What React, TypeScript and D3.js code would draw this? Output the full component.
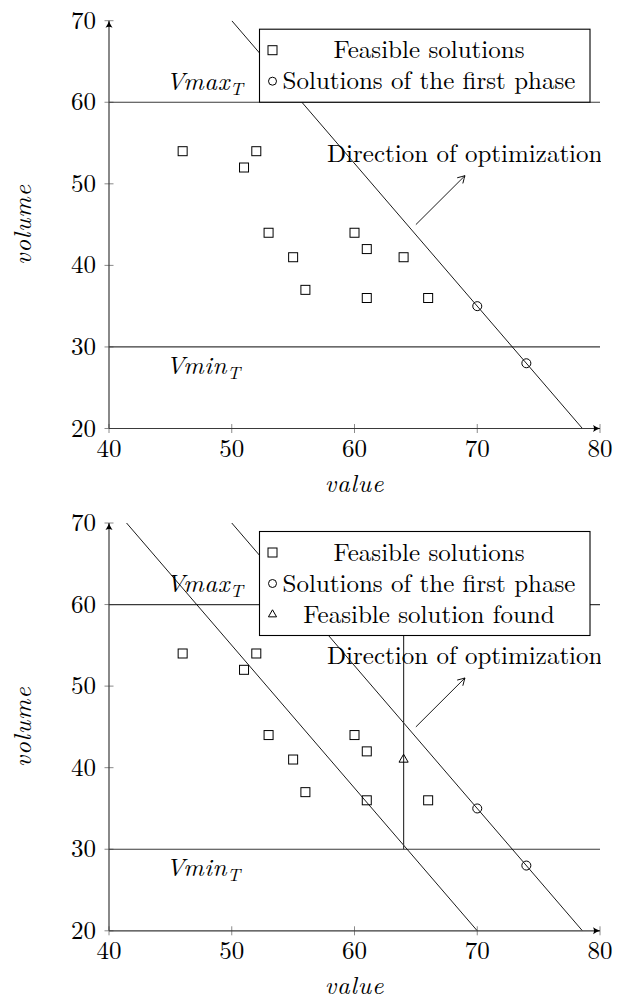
import React from 'react';
import * as d3 from 'd3';

// axis ticks
const xTicks = [40, 50, 60, 70, 80];
const yTicks = [20, 30, 40, 50, 60, 70];

// feasible solutions (value, volume)
const feasibleValue = [46, 51, 52, 53, 55, 56, 60, 61, 61, 64, 66];
const feasibleVolume = [54, 52, 54, 44, 41, 37, 44, 42, 36, 41, 36];

// solutions of the first phase
const firstPhaseValue = [70, 74];
const firstPhaseVolume = [35, 28];

// feasible solution found (second plot only)
const foundValue = [64];
const foundVolume = [41];

// volume bounds
const vMax = 60;
const vMin = 30;

// objective iso-lines
const optimLineValue = [50, 78.57];
const optimLineVolume = [70, 20];
const foundLineValue = [41.43, 70];
const foundLineVolume = [70, 20];

// vertical drop from the found solution
const dropValue = [64, 64];
const dropVolume = [30, 60];

// direction of optimization arrow
const arrowValue = [65, 69];
const arrowVolume = [45, 51];

const legendTop = ['Feasible solutions', 'Solutions of the first phase'];
const legendBottom = ['Feasible solutions', 'Solutions of the first phase', 'Feasible solution found'];

const FONT = 'Latin Modern Roman';
const FS = 25;

type Mark = 'square' | 'circle' | 'triangle';

function Marker({ kind, cx, cy, s = 9 }: { kind: Mark; cx: number; cy: number; s?: number }) {
  if (kind === 'square') {
    return <rect x={cx - s / 2} y={cy - s / 2} width={s} height={s} fill="none" stroke="#000" strokeWidth={1} />;
  }
  if (kind === 'circle') {
    return <circle cx={cx} cy={cy} r={s / 2} fill="none" stroke="#000" strokeWidth={1} />;
  }
  const tri = d3.symbol().type(d3.symbolTriangle).size(s * s * 0.45)();
  return <path d={tri || ''} transform={`translate(${cx},${cy})`} fill="none" stroke="#000" strokeWidth={1} />;
}

function Chart({ id, top, second }: { id: string; top: number; second: boolean }) {
  const x = d3.scaleLinear().domain([40, 80]).range([109, 600]);
  const y = d3.scaleLinear().domain([20, 70]).range([top + 407.8, top]);
  const line = d3
    .line<[number, number]>()
    .x((d) => x(d[0]))
    .y((d) => y(d[1]));
  const pts = (vs: number[], ws: number[]) => vs.map((v, i) => [v, ws[i]] as [number, number]);

  let fv = feasibleValue;
  let fw = feasibleVolume;
  if (second) {
    // the found solution replaces its square
    const keep = feasibleValue.map((v, i) => !(v === foundValue[0] && feasibleVolume[i] === foundVolume[0]));
    fv = feasibleValue.filter((_, i) => keep[i]);
    fw = feasibleVolume.filter((_, i) => keep[i]);
  }

  const [x0, x1] = x.range();
  const yb = y(20);
  const yt = y(70);
  const axisCol = '#3a3a3a';

  const legend = second ? legendBottom : legendTop;
  const legendKinds: Mark[] = ['square', 'circle', 'triangle'];
  const lgLeft = 259.5;
  const lgRight = 590;
  const lgTop = yt + 8.5;
  const rowH = 31;
  const lgH = 21 + rowH * (legend.length - 1) + 21;

  return (
    <g>
      <defs>
        <clipPath id={`clip-${id}`}>
          <rect x={x0} y={yt} width={x1 - x0 + 1} height={yb - yt} />
        </clipPath>
      </defs>

      {/* ticks */}
      {xTicks.map((t) => (
        <line key={'xt' + t} x1={x(t)} x2={x(t)} y1={yb - 4.5} y2={yb + 4.5} stroke="#8a8a8a" strokeWidth={1} />
      ))}
      {yTicks.map((t) => (
        <line key={'yt' + t} x1={x0 - 4.5} x2={x0 + 4.5} y1={y(t)} y2={y(t)} stroke="#8a8a8a" strokeWidth={1} />
      ))}

      {/* bounds */}
      <line x1={x0} x2={x1} y1={y(vMax)} y2={y(vMax)} stroke={axisCol} strokeWidth={1.2} />
      <line x1={x0} x2={x1} y1={y(vMin)} y2={y(vMin)} stroke={axisCol} strokeWidth={1.2} />

      <g clipPath={`url(#clip-${id})`}>
        <path d={line(pts(optimLineValue, optimLineVolume)) || ''} fill="none" stroke="#000" strokeWidth={0.9} />
        {second && (
          <>
            <path d={line(pts(foundLineValue, foundLineVolume)) || ''} fill="none" stroke="#000" strokeWidth={0.9} />
            <path d={line(pts(dropValue, dropVolume)) || ''} fill="none" stroke={axisCol} strokeWidth={1.2} />
          </>
        )}
      </g>

      {/* direction */}
      <path
        d={line(pts(arrowValue, arrowVolume)) || ''}
        fill="none"
        stroke="#000"
        strokeWidth={0.9}
        markerEnd="url(#openArrow)"
      />
      <g clipPath={`url(#clip-${id})`}>
        <text x={327} y={y(52.7)} fontFamily={FONT} fontSize={FS}>
          Direction of optimization
        </text>
      </g>

      {/* bound labels */}
      <text x={166} y={y(61.5)} fontFamily={FONT} fontSize={FS} fontStyle="italic" letterSpacing={0.6}>
        Vmax
        <tspan fontSize={FS * 0.72} dy={5}>T</tspan>
      </text>
      <text x={166} y={y(26.7)} fontFamily={FONT} fontSize={FS} fontStyle="italic" letterSpacing={0.6}>
        Vmin
        <tspan fontSize={FS * 0.72} dy={5}>T</tspan>
      </text>

      {/* marks */}
      {fv.map((v, i) => (
        <Marker key={'f' + i} kind="square" cx={x(v)} cy={y(fw[i])} />
      ))}
      {firstPhaseValue.map((v, i) => (
        <Marker key={'c' + i} kind="circle" cx={x(v)} cy={y(firstPhaseVolume[i])} />
      ))}
      {second &&
        foundValue.map((v, i) => <Marker key={'t' + i} kind="triangle" cx={x(v)} cy={y(foundVolume[i])} />)}

      {/* axes */}
      <line x1={x0} x2={x1} y1={yb} y2={yb} stroke={axisCol} strokeWidth={1.2} markerEnd="url(#axisArrow)" />
      <line x1={x0} x2={x0} y1={yb} y2={yt} stroke={axisCol} strokeWidth={1.2} markerEnd="url(#axisArrow)" />

      {xTicks.map((t) => (
        <text key={'xl' + t} x={x(t)} y={yb + 28} textAnchor="middle" fontFamily={FONT} fontSize={FS}>
          {t}
        </text>
      ))}
      {yTicks.map((t) => (
        <text key={'yl' + t} x={x0 - 13} y={y(t) + 8} textAnchor="end" fontFamily={FONT} fontSize={FS}>
          {t}
        </text>
      ))}

      <text
        x={(x0 + x1) / 2}
        y={yb + 63}
        textAnchor="middle"
        fontFamily={FONT}
        fontSize={FS}
        fontStyle="italic"
        letterSpacing={0.8}
      >
        value
      </text>
      <text
        transform={`translate(31,${(yb + yt) / 2}) rotate(-90)`}
        textAnchor="middle"
        fontFamily={FONT}
        fontSize={FS}
        fontStyle="italic"
        letterSpacing={0.8}
      >
        volume
      </text>

      {/* legend */}
      <rect x={lgLeft} y={lgTop} width={lgRight - lgLeft} height={lgH} fill="#fff" stroke="#000" strokeWidth={1.1} />
      {legend.map((label, i) => {
        const cy = lgTop + 21 + i * rowH;
        return (
          <g key={label}>
            <Marker kind={legendKinds[i]} cx={272.5} cy={cy} s={legendKinds[i] === 'square' ? 9 : 8} />
            <text x={429} y={cy + 8} textAnchor="middle" fontFamily={FONT} fontSize={FS}>
              {label}
            </text>
          </g>
        );
      })}
    </g>
  );
}

export default function App() {
  return (
    <svg
      width={621}
      height={1001}
      viewBox="0 0 621 1001"
      style={{ position: 'absolute', left: 0, top: 0, background: '#fff' }}
    >
      <defs>
        <marker id="axisArrow" viewBox="-8 -5 10 10" refX={0} refY={0} markerWidth={10} markerHeight={10} markerUnits="userSpaceOnUse" orient="auto">
          <path d="M -7 -3.5 Q -3 -0.8 0 0 Q -3 0.8 -7 3.5 Q -5 0 -7 -3.5 Z" fill="#000" />
        </marker>
        <marker id="openArrow" viewBox="-10 -6 12 12" refX={0} refY={0} markerWidth={12} markerHeight={12} markerUnits="userSpaceOnUse" orient="auto">
          <path d="M -7 -4 Q -2 -1 0 0 Q -2 1 -7 4" fill="none" stroke="#000" strokeWidth={0.9} />
        </marker>
      </defs>
      <rect width={621} height={1001} fill="#fff" />
      <Chart id="a" top={20.7} second={false} />
      <Chart id="b" top={523} second={true} />
    </svg>
  );
}
